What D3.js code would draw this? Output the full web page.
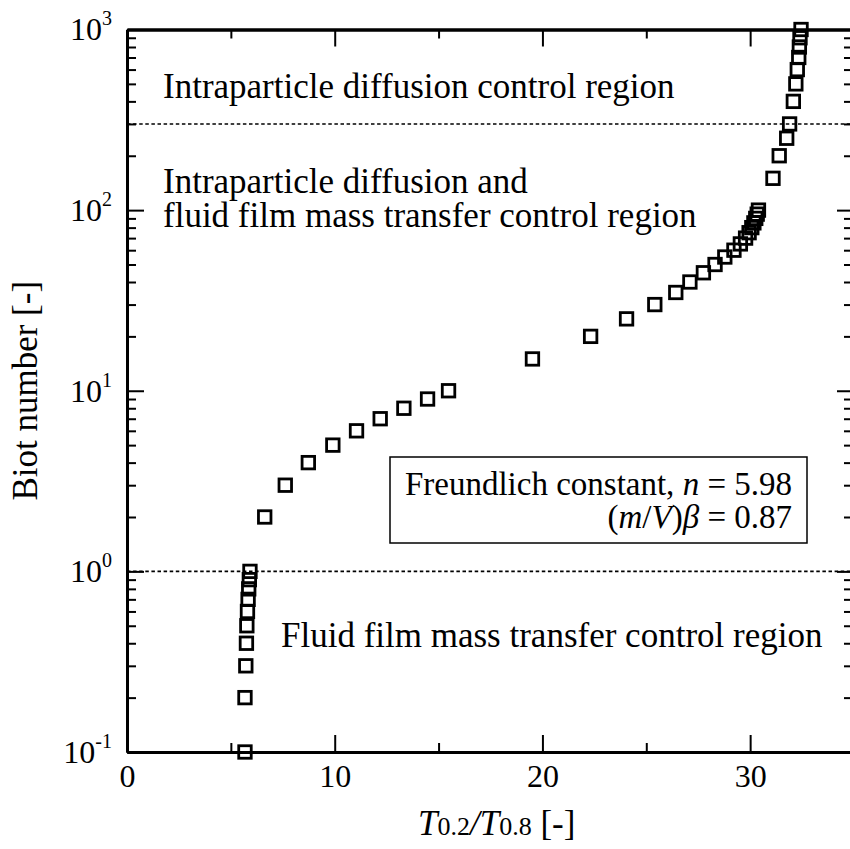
<!DOCTYPE html>
<html>
<head>
<meta charset="utf-8">
<script src="https://cdn.jsdelivr.net/npm/d3@7"></script>
<style>
  body { margin: 0; background: #fff; }
  svg, svg text, svg tspan { font-family: "Liberation Serif", "Times New Roman", serif; fill: #000; }
</style>
</head>
<body>
<script>
// Biot number vs T0.2/T0.8
const biot = [0.1, 0.2, 0.3, 0.4, 0.5, 0.6, 0.7, 0.8, 0.9, 1,
  2, 3, 4, 5, 6, 7, 8, 9, 10,
  15, 20, 25, 30, 35, 40, 45, 50, 55, 60, 65, 70, 75, 80, 85, 90, 95, 100,
  150, 200, 250, 300, 400, 500, 600, 700, 800, 900, 1000];
const ratio = [5.68, 5.68, 5.72, 5.75, 5.77, 5.8, 5.83, 5.86, 5.89, 5.92,
  6.63, 7.62, 8.73, 9.91, 11.05, 12.19, 13.33, 14.47, 15.48,
  19.52, 22.32, 24.05, 25.41, 26.42, 27.1, 27.75, 28.31, 28.78, 29.22, 29.53, 29.78, 29.95, 30.08, 30.18, 30.27, 30.34, 30.4,
  31.1, 31.4, 31.76, 31.9, 32.08, 32.2, 32.27, 32.34, 32.37, 32.4, 32.45];

const xMajor = [0, 10, 20, 30];
const xMinor = [5, 15, 25];
const yMajor = [0.1, 1, 10, 100, 1000];
const boundaries = [1, 300]; // region limits (dotted lines)

const width = 850, height = 849;
const serif = '"Liberation Serif", "Times New Roman", serif';
const x = d3.scaleLinear().domain([0, 35]).range([127, 854]);
const y = d3.scaleLog().domain([0.1, 1000]).range([752, 29.5]);

// minor log ticks 2..9 per decade
let yMinor = [];
for (let k = -1; k < 3; k++) {
  for (let m = 2; m <= 9; m++) yMinor.push(m * Math.pow(10, k));
}

const svg = d3.select("body").append("svg").attr("width", width).attr("height", height)
  .attr("font-family", serif);

const styleAxis = (g) => {
  g.attr("font-family", serif);
  g.selectAll(".domain").attr("stroke-width", 3);
  g.selectAll(".tick line").attr("stroke-width", 2);
};

// bottom
svg.append("g").attr("transform", "translate(0," + y(0.1) + ")")
  .call(d3.axisBottom(x).tickValues(xMajor).tickSize(-17).tickSizeOuter(0).tickPadding(12).tickFormat(d3.format("d")))
  .call(styleAxis)
  .call(g => g.selectAll(".tick text").attr("font-size", 32).attr("font-family", serif));
svg.append("g").attr("transform", "translate(0," + y(0.1) + ")")
  .call(d3.axisBottom(x).tickValues(xMinor).tickSize(-9).tickSizeOuter(0).tickFormat(""))
  .call(styleAxis);
// top
svg.append("g").attr("transform", "translate(0," + y(1000) + ")")
  .call(d3.axisTop(x).tickValues(xMajor).tickSize(-17).tickSizeOuter(0).tickFormat(""))
  .call(styleAxis);
svg.append("g").attr("transform", "translate(0," + y(1000) + ")")
  .call(d3.axisTop(x).tickValues(xMinor).tickSize(-9).tickSizeOuter(0).tickFormat(""))
  .call(styleAxis);

// left
svg.append("g").attr("transform", "translate(" + x(0) + ",0)")
  .call(d3.axisLeft(y).tickValues(yMajor).tickSize(-17).tickSizeOuter(0).tickPadding(15))
  .call(styleAxis)
  .call(g => g.selectAll(".tick text").each(function(d) {
    let t = d3.select(this).attr("font-size", 32).attr("font-family", serif).text(null);
    t.append("tspan").text("10");
    t.append("tspan").attr("dy", -15).attr("font-size", 20).text(String(Math.round(Math.log10(d))));
  }));
svg.append("g").attr("transform", "translate(" + x(0) + ",0)")
  .call(d3.axisLeft(y).tickValues(yMinor).tickSize(-9).tickSizeOuter(0).tickFormat(""))
  .call(styleAxis);
// right
svg.append("g").attr("transform", "translate(" + x(35) + ",0)")
  .call(d3.axisRight(y).tickValues(yMajor).tickSize(-17).tickSizeOuter(0).tickFormat(""))
  .call(styleAxis);
svg.append("g").attr("transform", "translate(" + x(35) + ",0)")
  .call(d3.axisRight(y).tickValues(yMinor).tickSize(-10).tickSizeOuter(0).tickFormat(""))
  .call(styleAxis);

// dotted region boundaries
svg.selectAll(".bound").data(boundaries).enter().append("line")
  .attr("class", "bound")
  .attr("x1", x(0)).attr("x2", x(35))
  .attr("y1", d => y(d)).attr("y2", d => y(d))
  .attr("stroke", "#000").attr("stroke-width", 1.6).attr("stroke-dasharray", "3.5,2.6");

// points
const sq = 12.5;
svg.selectAll(".pt").data(biot).enter().append("rect")
  .attr("class", "pt")
  .attr("x", (d, i) => x(ratio[i]) - sq / 2)
  .attr("y", d => y(d) - sq / 2)
  .attr("width", sq).attr("height", sq)
  .attr("fill", "none").attr("stroke", "#000").attr("stroke-width", 2.8);

// region labels
const big = 35;
svg.append("text").attr("x", 163).attr("y", 98).attr("font-size", big)
  .text("Intraparticle diffusion control region");
svg.append("text").attr("x", 163).attr("y", 193).attr("font-size", big)
  .text("Intraparticle diffusion and");
svg.append("text").attr("x", 163).attr("y", 227).attr("font-size", big)
  .text("fluid film mass transfer control region");
svg.append("text").attr("x", 281).attr("y", 647).attr("font-size", big)
  .text("Fluid film mass transfer control region");

// Freundlich box
svg.append("rect").attr("x", 390).attr("y", 457).attr("width", 417).attr("height", 86)
  .attr("fill", "#fff").attr("stroke", "#000").attr("stroke-width", 1.5);
let l1 = svg.append("text").attr("x", 792).attr("y", 495).attr("font-size", 33).attr("text-anchor", "end");
l1.append("tspan").text("Freundlich constant, ");
l1.append("tspan").attr("font-style", "italic").text("n");
l1.append("tspan").text(" = 5.98");
let l2 = svg.append("text").attr("x", 792).attr("y", 528).attr("font-size", 33).attr("text-anchor", "end");
l2.append("tspan").text("(");
l2.append("tspan").attr("font-style", "italic").text("m");
l2.append("tspan").text("/");
l2.append("tspan").attr("font-style", "italic").text("V");
l2.append("tspan").text(")");
l2.append("tspan").attr("font-style", "italic").text("β");
l2.append("tspan").text(" = 0.87");

// axis titles
svg.append("text").attr("transform", "translate(37," + ((y(0.1) + y(1000)) / 2) + ") rotate(-90)")
  .attr("text-anchor", "middle").attr("font-size", big).text("Biot number [-]");

let xt = svg.append("text").attr("x", 418).attr("y", 835).attr("font-size", big);
xt.append("tspan").attr("font-style", "italic").text("T");
xt.append("tspan").attr("font-size", 26).text("0.2");
xt.append("tspan").attr("font-style", "italic").text("/T");
xt.append("tspan").attr("font-size", 26).text("0.8");
xt.append("tspan").text(" [-]");
</script>
</body>
</html>
